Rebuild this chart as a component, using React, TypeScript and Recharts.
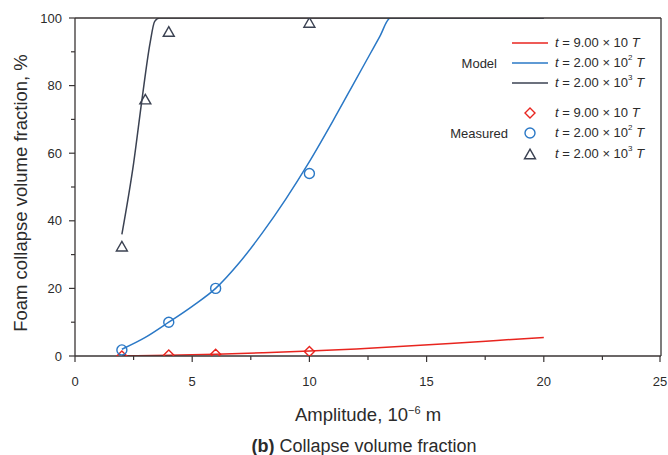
import React from 'react';
import { ComposedChart, Line, Scatter, XAxis, YAxis, ReferenceLine } from 'recharts';

// ---------- data ----------
const xTicks = [0, 2.5, 5, 7.5, 10, 12.5, 15, 17.5, 20, 22.5, 25];
const yTicks = [0, 10, 20, 30, 40, 50, 60, 70, 80, 90, 100];

const modelRedX = [2, 4, 6, 8, 10, 12, 14, 16, 18, 20];
const modelRedY = [0.05, 0.25, 0.55, 0.95, 1.45, 2.1, 2.85, 3.7, 4.6, 5.5];

const modelBlueX = [2, 3, 4, 5, 6, 7, 8, 9, 10, 11, 12, 12.6, 13, 13.45, 20];
const modelBlueY = [2, 5.5, 10, 14.7, 20, 27.5, 36.5, 46.5, 57.5, 69.5, 82, 89.5, 94.5, 100, 100];

const modelDarkX = [2, 2.5, 2.86, 3.2, 3.4, 3.6, 20];
const modelDarkY = [36, 57, 76, 92.5, 99, 100, 100];

const measRedX = [2, 4, 6, 10];
const measRedY = [0, 0.3, 0.5, 1.3];

const measBlueX = [2, 4, 6, 10];
const measBlueY = [1.8, 10, 20, 54];

const measDarkX = [2, 3, 4, 10];
const measDarkY = [32.5, 76, 96, 98.7];

const toPts = (xs: number[], ys: number[]) => xs.map((x, i) => ({ x, y: ys[i] }));

const RED = '#e8251f';
const BLUE = '#2a78c6';
const DARK = '#3b4252';
const AXIS = '#3a3535';
const TEXT = '#2b2b2b';
const FONT = '"Liberation Sans", Arial, sans-serif';

const PLOT_LEFT = 75;
const PLOT_BOTTOM = 356;

const XTick = (props: any) => {
  const { x, payload } = props;
  const v = payload.value;
  const major = v % 5 === 0;
  return (
    <g>
      <line x1={x} y1={PLOT_BOTTOM} x2={x} y2={PLOT_BOTTOM + (major ? 6 : 4)} stroke={AXIS} strokeWidth={1.2} />
      {major && (
        <text x={x} y={PLOT_BOTTOM + 30} textAnchor="middle" fontSize={13} fontFamily={FONT} fill={TEXT}>
          {v}
        </text>
      )}
    </g>
  );
};

const YTick = (props: any) => {
  const { y, payload } = props;
  const v = payload.value;
  const major = v % 20 === 0;
  return (
    <g>
      <line x1={PLOT_LEFT} y1={y} x2={PLOT_LEFT - (major ? 6 : 4)} y2={y} stroke={AXIS} strokeWidth={1.2} />
      {major && (
        <text x={PLOT_LEFT - 13} y={y + 4.5} textAnchor="end" fontSize={13} fontFamily={FONT} fill={TEXT}>
          {v}
        </text>
      )}
    </g>
  );
};

const Diamond = (props: any) => {
  const { cx, cy } = props;
  const r = 5;
  return (
    <path
      d={`M${cx},${cy - r} L${cx + r},${cy} L${cx},${cy + r} L${cx - r},${cy} Z`}
      fill="none"
      stroke={RED}
      strokeWidth={1.4}
    />
  );
};

const Circle = (props: any) => {
  const { cx, cy } = props;
  return <circle cx={cx} cy={cy} r={5} fill="none" stroke={BLUE} strokeWidth={1.4} />;
};

const Triangle = (props: any) => {
  const { cx, cy } = props;
  const w = 5.5;
  const h = 4.8;
  return (
    <path
      d={`M${cx},${cy - h} L${cx + w},${cy + h} L${cx - w},${cy + h} Z`}
      fill="none"
      stroke={DARK}
      strokeWidth={1.4}
    />
  );
};

const LineIcon = ({ color }: { color: string }) => (
  <svg width={36} height={4} style={{ display: 'block' }}>
    <line x1={0} y1={2} x2={36} y2={2} stroke={color} strokeWidth={1.6} />
  </svg>
);

const MarkIcon = ({ kind }: { kind: string }) => (
  <svg width={14} height={14} style={{ display: 'block' }}>
    {kind === 'd' && <path d="M7,2 L12,7 L7,12 L2,7 Z" fill="none" stroke={RED} strokeWidth={1.4} />}
    {kind === 'c' && <circle cx={7} cy={7} r={5} fill="none" stroke={BLUE} strokeWidth={1.4} />}
    {kind === 't' && <path d="M7,2.2 L12.5,11.8 L1.5,11.8 Z" fill="none" stroke={DARK} strokeWidth={1.4} />}
  </svg>
);

const LegendLabel = ({ mant, exp }: { mant: string; exp?: string }) => (
  <span style={{ whiteSpace: 'nowrap' }}>
    <i>t</i> = {mant} × 10
    {exp ? <sup style={{ fontSize: 8, verticalAlign: 'top', lineHeight: '8px', position: 'relative', top: -1 }}>{exp}</sup> : null}{' '}
    <i>T</i>
  </span>
);

const legendRows = [
  { y: 43, icon: <LineIcon color={RED} />, label: <LegendLabel mant="9.00" /> },
  { y: 63, icon: <LineIcon color={BLUE} />, label: <LegendLabel mant="2.00" exp="2" /> },
  { y: 83, icon: <LineIcon color={DARK} />, label: <LegendLabel mant="2.00" exp="3" /> },
  { y: 113, icon: <MarkIcon kind="d" />, label: <LegendLabel mant="9.00" />, mark: true },
  { y: 133, icon: <MarkIcon kind="c" />, label: <LegendLabel mant="2.00" exp="2" />, mark: true },
  { y: 154, icon: <MarkIcon kind="t" />, label: <LegendLabel mant="2.00" exp="3" />, mark: true },
];

export default function App() {
  return (
    <div style={{ position: 'absolute', left: 0, top: 0, width: 668, height: 455, background: '#fff', fontFamily: FONT }}>
      <ComposedChart width={668} height={455} margin={{ top: 18, right: 7, bottom: 0, left: 0 }}>
        <XAxis
          type="number"
          dataKey="x"
          domain={[0, 25]}
          ticks={xTicks}
          height={99}
          tickSize={0}
          tickMargin={0}
          tickLine={false}
          tick={<XTick />}
          axisLine={{ stroke: AXIS, strokeWidth: 1.3 }}
          allowDataOverflow
        />
        <YAxis
          type="number"
          dataKey="y"
          domain={[0, 100]}
          ticks={yTicks}
          width={75}
          tickSize={0}
          tickMargin={0}
          tickLine={false}
          tick={<YTick />}
          axisLine={{ stroke: AXIS, strokeWidth: 1.3 }}
          allowDataOverflow
        />
        <Line data={toPts(modelRedX, modelRedY)} dataKey="y" type="monotone" stroke={RED} strokeWidth={1.5} dot={false} isAnimationActive={false} />
        <Line data={toPts(modelBlueX, modelBlueY)} dataKey="y" type="monotone" stroke={BLUE} strokeWidth={1.5} dot={false} isAnimationActive={false} />
        <Line data={toPts(modelDarkX, modelDarkY)} dataKey="y" type="monotone" stroke={DARK} strokeWidth={1.5} dot={false} isAnimationActive={false} />
        <ReferenceLine y={100} stroke={AXIS} strokeWidth={1.3} />
        <ReferenceLine x={25} stroke={AXIS} strokeWidth={1.3} />
        <Scatter data={toPts(measRedX, measRedY)} dataKey="y" shape={<Diamond />} isAnimationActive={false} />
        <Scatter data={toPts(measBlueX, measBlueY)} dataKey="y" shape={<Circle />} isAnimationActive={false} />
        <Scatter data={toPts(measDarkX, measDarkY)} dataKey="y" shape={<Triangle />} isAnimationActive={false} />
      </ComposedChart>

      {/* Axis titles */}
      <div
        style={{
          position: 'absolute',
          left: 21,
          top: 193,
          transform: 'translate(-50%, -50%) rotate(-90deg)',
          fontSize: 18.5,
          color: TEXT,
          whiteSpace: 'nowrap',
        }}
      >
        Foam collapse volume fraction, %
      </div>
      <div
        style={{
          position: 'absolute',
          left: 368,
          top: 415,
          transform: 'translate(-50%, -50%)',
          fontSize: 18.5,
          color: TEXT,
          whiteSpace: 'nowrap',
        }}
      >
        Amplitude, 10
        <sup style={{ fontSize: 11, verticalAlign: 'top', lineHeight: '11px', position: 'relative', top: 1 }}>−6</sup> m
      </div>
      <div
        style={{
          position: 'absolute',
          left: 364,
          top: 446,
          transform: 'translate(-50%, -50%)',
          fontSize: 18,
          color: TEXT,
          whiteSpace: 'nowrap',
        }}
      >
        <b>(b)</b> Collapse volume fraction
      </div>

      {/* Legend */}
      <div style={{ position: 'absolute', right: 668 - 497, top: 63, transform: 'translateY(-50%)', fontSize: 13, color: TEXT }}>Model</div>
      <div style={{ position: 'absolute', right: 668 - 508, top: 133, transform: 'translateY(-50%)', fontSize: 13, color: TEXT }}>Measured</div>
      {legendRows.map((r, i) => (
        <React.Fragment key={i}>
          <div style={{ position: 'absolute', left: r.mark ? 523 : 512, top: r.y, transform: 'translateY(-50%)' }}>{r.icon}</div>
          <div style={{ position: 'absolute', left: 555, top: r.y, transform: 'translateY(-50%)', fontSize: 13, color: TEXT, lineHeight: '16px' }}>
            {r.label}
          </div>
        </React.Fragment>
      ))}
    </div>
  );
}
